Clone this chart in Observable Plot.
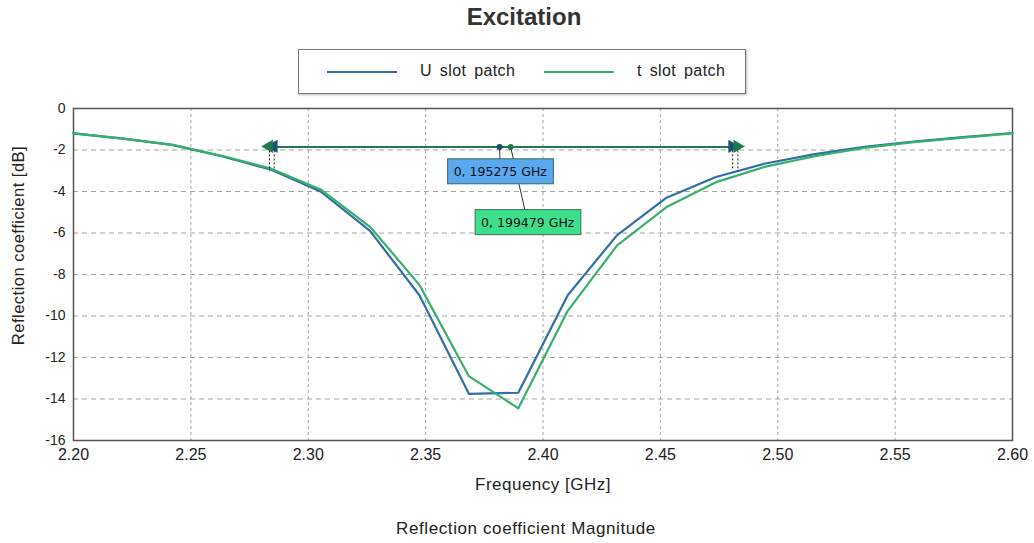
<!DOCTYPE html>
<html>
<head>
<meta charset="utf-8">
<script src="https://cdn.jsdelivr.net/npm/d3@7"></script>
<script src="https://cdn.jsdelivr.net/npm/@observablehq/plot@0.6"></script>
<style>
  html, body { margin: 0; padding: 0; background: #fff; }
  body { width: 1034px; height: 543px; position: relative; overflow: hidden; font-family: "Liberation Sans", Arial, sans-serif; }
  #title { position: absolute; left: 0; width: 1048px; top: 3px; text-align: center; font-size: 24px; font-weight: bold; color: #333; }
  #legend { position: absolute; left: 298px; top: 49px; width: 446px; height: 43px; border: 1.5px solid #7a7a7a; box-shadow: 1px 1px 2px #bbb; background: #fff; }
  .li { position: absolute; top: 12px; font-size: 16px; color: #222; word-spacing: 3px; letter-spacing: 0.4px; }
  .sw { position: absolute; top: 21px; height: 2px; width: 70px; }
  #chart { position: absolute; left: 0; top: 98px; }
  #caption { position: absolute; left: 0; width: 1052px; top: 519px; text-align: center; font-size: 17px; letter-spacing: 0.6px; color: #222; }
  .axlab text { letter-spacing: 0.5px; }
</style>
</head>
<body>
<div id="title">Excitation</div>
<div id="legend"></div>
<div id="chart"></div>
<div id="caption">Reflection coefficient Magnitude</div>
<script>
// ---- data ----
const freq = d3.range(20).map(k => 2.2 + k * 0.4 / 19);
const uSlot = [-1.2, -1.45, -1.75, -2.3, -2.95, -4.0, -5.9, -9.0, -13.75, -13.7, -9.0, -6.1, -4.3, -3.3, -2.65, -2.2, -1.85, -1.6, -1.38, -1.18];
const tSlot = [-1.2, -1.45, -1.75, -2.28, -2.9, -3.9, -5.7, -8.5, -12.9, -14.45, -9.75, -6.6, -4.75, -3.55, -2.8, -2.3, -1.9, -1.62, -1.4, -1.2];
const seriesNames = ["U slot patch", "t slot patch"];
const seriesColors = ["#2f6fa6", "#37b06c"];
const xTicks = [2.20, 2.25, 2.30, 2.35, 2.40, 2.45, 2.50, 2.55, 2.60];
const yTicks = [0, -2, -4, -6, -8, -10, -12, -14, -16];
const xLabel = "Frequency [GHz]";
const yLabel = "Reflection coefficient [dB]";

// bandwidth markers (edges in GHz, marker level in dB, curve level at edge)
const bwSeries = ["U slot patch", "t slot patch"];
const bwLeft = [2.2855, 2.2835];
const bwRight = [2.4808, 2.4830];
const bwLevel = -1.85;
const bwCurve = [-3.0, -3.05];
const bwDotX = [2.3815, 2.3862];
const bwLabels = ["0, 195275 GHz", "0, 199479 GHz"];
const bwLabelX = [2.3818, 2.3935];
const bwLabelY = [-3.05, -5.5];
const bwArrowColors = ["#1f4f78", "#1e7a4c"];
const bwBoxColors = ["#5aa9f0", "#3de08a"];

// ---- tables ----
const rows = [];
freq.forEach((f, i) => {
  rows.push({f, v: uSlot[i], s: seriesNames[0]});
  rows.push({f, v: tSlot[i], s: seriesNames[1]});
});
const bw = bwSeries.map((s, i) => ({
  s, l: bwLeft[i], r: bwRight[i], c: bwCurve[i], dx: bwDotX[i],
  label: bwLabels[i], lx: bwLabelX[i], ly: bwLabelY[i],
  ac: bwArrowColors[i], bc: bwBoxColors[i]
}));
const heads = bw.flatMap(d => [
  {x: d.l, rot: -90, c: d.ac, dx: 4},
  {x: d.r, rot: 90, c: d.ac, dx: -4}
]);

const plot = Plot.plot({
  width: 1034,
  height: 400,
  marginLeft: 73,
  marginRight: 22,
  marginTop: 10,
  marginBottom: 58,
  style: {fontFamily: "'Liberation Sans', Arial, sans-serif", color: "#222", background: "transparent", overflow: "visible"},
  x: {domain: [2.2, 2.6]},
  y: {domain: [-16, 0]},
  marks: [
    Plot.gridY(yTicks, {stroke: "#9a9a9a", strokeOpacity: 0.9, strokeDasharray: "5,4"}),
    Plot.gridX(xTicks, {stroke: "#9a9a9a", strokeOpacity: 0.9, strokeDasharray: "3,3"}),
    Plot.axisY({ticks: yTicks, tickSize: 0, tickPadding: 8, fontSize: 14, tickFormat: d => String(d), label: null}),
    Plot.axisX({ticks: xTicks, tickSize: 0, tickPadding: 8, fontSize: 16, tickFormat: d3.format(".2f"), label: null}),
    Plot.text([xLabel], {frameAnchor: "bottom", dy: 49, fontSize: 17, fill: "#222", className: "axlab"}),
    Plot.text([yLabel], {frameAnchor: "left", textAnchor: "middle", dx: -55, dy: -29, rotate: -90, fontSize: 16.5, fill: "#222", className: "axlab"}),
    Plot.frame({stroke: "#555", strokeWidth: 1.5}),
    Plot.line(rows, {x: "f", y: "v", z: "s", stroke: d => d.s === seriesNames[0] ? seriesColors[0] : seriesColors[1], strokeWidth: 2.2}),
    // dashed edge verticals
    Plot.ruleX(bw, {x: "l", y1: bwLevel, y2: "c", stroke: "#222", strokeDasharray: "2,2", strokeWidth: 1}),
    Plot.ruleX(bw, {x: "r", y1: bwLevel, y2: "c", stroke: "#222", strokeDasharray: "2,2", strokeWidth: 1}),
    // horizontal bandwidth lines
    Plot.link(bw, {x1: "l", x2: "r", y1: bwLevel, y2: bwLevel, stroke: "ac", strokeWidth: 1.6}),
    Plot.dot(heads, {x: "x", y: bwLevel, dx: "dx", symbol: "triangle", rotate: "rot", r: 4, fill: "c", stroke: "c"}),
    // connectors to labels
    Plot.link(bw, {x1: "dx", y1: bwLevel, x2: "lx", y2: "ly", stroke: "#333", strokeWidth: 1}),
    Plot.dot(bw, {x: "dx", y: bwLevel, r: 3, fill: "ac"}),
    Plot.text(bw, {x: "lx", y: "ly", text: "label", fontSize: 12.5, fill: "#111", className: "bwlabel", fontFamily: "'DejaVu Sans', sans-serif"})
  ]
});
document.getElementById("chart").appendChild(plot);

// label boxes behind annotation text
const texts = plot.querySelectorAll("g.bwlabel text");
texts.forEach((t, i) => {
  const b = t.getBBox();
  const rect = document.createElementNS("http://www.w3.org/2000/svg", "rect");
  rect.setAttribute("x", b.x - 6);
  rect.setAttribute("y", b.y - 5);
  rect.setAttribute("width", b.width + 12);
  rect.setAttribute("height", b.height + 10);
  rect.setAttribute("fill", bw[i].bc);
  rect.setAttribute("stroke", "#3a6a5a");
  rect.setAttribute("stroke-width", "1");
  const tr = t.getAttribute("transform");
  if (tr) rect.setAttribute("transform", tr);
  t.parentNode.insertBefore(rect, t);
});

// legend
const legend = document.getElementById("legend");
const pos = [[28, 121], [245, 338]];
seriesNames.forEach((n, i) => {
  const sw = document.createElement("div");
  sw.className = "sw";
  sw.style.left = pos[i][0] + "px";
  sw.style.background = seriesColors[i];
  legend.appendChild(sw);
  const lab = document.createElement("div");
  lab.className = "li";
  lab.style.left = pos[i][1] + "px";
  lab.textContent = n;
  legend.appendChild(lab);
});
</script>
</body>
</html>
